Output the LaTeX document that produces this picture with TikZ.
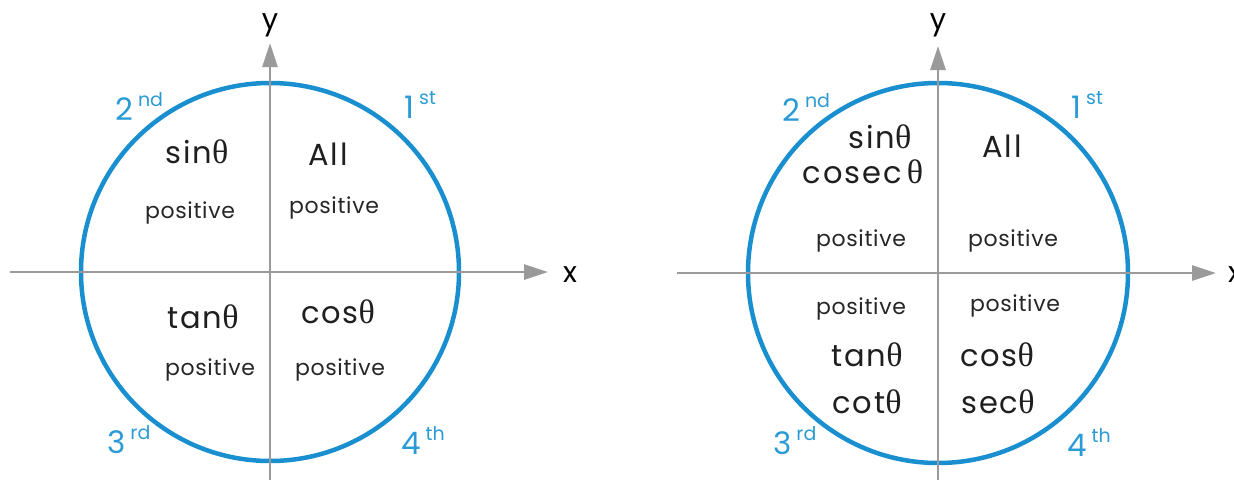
\documentclass[tikz,border=0pt]{standalone}
\usepackage{fontspec}
\setmainfont{Poppins}
\newfontfamily\wideface[LetterSpace=6]{Poppins}
\newfontfamily\posface[LetterSpace=3]{Poppins}
\newfontfamily\grk{Liberation Serif}
\usetikzlibrary{arrows.meta}
\definecolor{ringblue}{HTML}{1A8FD0}
\definecolor{ordblue}{HTML}{2A9BD4}
\definecolor{axisgray}{HTML}{9A9A9A}
\tikzset{
  axisline/.style={draw=axisgray, line width=2.8pt, -{Triangle[length=24pt,width=15pt]}},
  ring/.style={circle, draw=ringblue, line width=4.5pt, inner sep=0pt},
  fnlabel/.style={font=\wideface\fontsize{30.5}{35}\selectfont, text=black!88, inner sep=0pt, anchor=base},
  poslabel/.style={font=\posface\fontsize{22}{24}\selectfont, text=black!85, inner sep=0pt, anchor=base},
  ordlabel/.style={font=\fontsize{31}{32}\selectfont, text=ordblue, inner sep=0pt, anchor=base west},
  axlabel/.style={font=\fontsize{29}{30}\selectfont, text=black, inner sep=0pt, anchor=base},
}
\newcommand{\thet}{{\grk\fontsize{34}{35}\selectfont θ}}
\newcommand{\sups}[1]{\kern5pt\raisebox{14pt}{\fontsize{19}{19}\selectfont #1}}
\begin{document}
\begin{tikzpicture}[x=1pt,y=-1pt]
\useasboundingbox (0,0) rectangle (1234,480);
% ---------- left diagram ----------
\node[ring, minimum size=378pt] (c1) at (270,272) {};
\coordinate (lx0) at (10,272);
\coordinate (lx1) at (548,272);
\coordinate (ly0) at (270,480);
\coordinate (ly1) at (270,43);
\draw[axisline] (lx0) -- (lx1);
\draw[axisline] (ly0) -- (ly1);
\node[axlabel] (lxl) at (570,282) {x};
\node[axlabel] (lyl) at (270,29) {y};
\node[ordlabel] (l2) at (115,120) {2\sups{nd}};
\node[ordlabel] (l1) at (404,118) {1\sups{st}};
\node[ordlabel] (l3) at (107,453) {3\sups{rd}};
\node[ordlabel] (l4) at (401,454) {4\sups{th}};
\node[fnlabel] (lsin) at (197,163) {sin\thet};
\node[fnlabel] (lall) at (328,165) {All};
\node[poslabel] (lp2) at (190,218) {positive};
\node[poslabel] (lp1) at (334,213) {positive};
\node[fnlabel] (ltan) at (203,328) {tan\thet};
\node[fnlabel] (lcos) at (338,323) {cos\thet};
\node[poslabel] (lp3) at (210,375) {positive};
\node[poslabel] (lp4) at (340,375) {positive};
% ---------- right diagram ----------
\node[ring, minimum size=380pt] (c2) at (938,273) {};
\coordinate (rx0) at (677,273);
\coordinate (rx1) at (1216,273);
\coordinate (ry0) at (938,480);
\coordinate (ry1) at (938,46);
\draw[axisline] (rx0) -- (rx1);
\draw[axisline] (ry0) -- (ry1);
\node[axlabel, anchor=base west] (rxl) at (1228,282) {x};
\node[axlabel] (ryl) at (938,29) {y};
\node[ordlabel] (r2) at (782,121) {2\sups{nd}};
\node[ordlabel] (r1) at (1071,118) {1\sups{st}};
\node[ordlabel] (r3) at (773,454) {3\sups{rd}};
\node[ordlabel] (r4) at (1067,456) {4\sups{th}};
\node[fnlabel] (rsin) at (880,148) {sin\thet};
\node[fnlabel] (rcsc) at (863,183) {cosec\,\thet};
\node[fnlabel] (rall) at (1002,157) {All};
\node[poslabel] (rp2a) at (861,246) {positive};
\node[poslabel] (rp1a) at (1013,246) {positive};
\node[poslabel] (rp3a) at (861,314) {positive};
\node[poslabel] (rp4a) at (1015,311) {positive};
\node[fnlabel] (rtan) at (867,366) {tan\thet};
\node[fnlabel] (rcos) at (997,366) {cos\thet};
\node[fnlabel] (rcot) at (867,413) {cot\thet};
\node[fnlabel] (rsec) at (998,413) {sec\thet};
\end{tikzpicture}
\end{document}
